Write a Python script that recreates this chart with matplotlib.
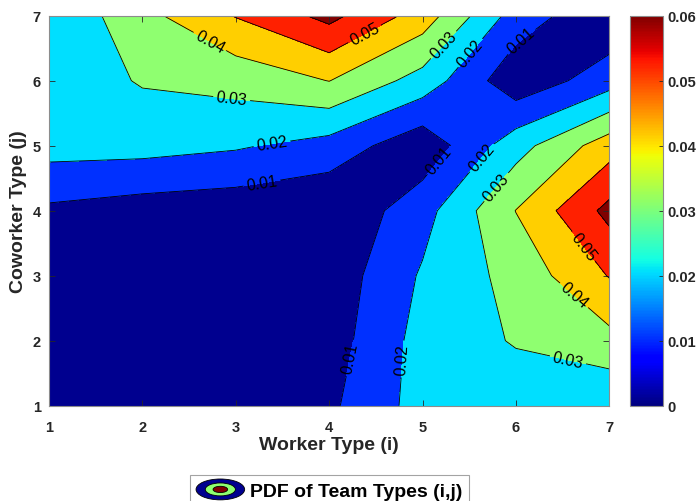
import numpy as np
import matplotlib
matplotlib.use("Agg")
import matplotlib.pyplot as plt
from matplotlib.colors import ListedColormap, BoundaryNorm, Normalize
from matplotlib.cm import ScalarMappable
from matplotlib.patches import Ellipse
from matplotlib.legend_handler import HandlerBase

plt.rcParams['font.family'] = ['Liberation Sans', 'DejaVu Sans']

# worker / coworker types
worker_types = [1, 2, 3, 4, 5, 6, 7]
coworker_types = [1, 2, 3, 4, 5, 6, 7]

# joint PDF of team types, one row per coworker type j (columns: worker type i)
pdf_j1 = [0.0005, 0.0008, 0.0015, 0.0081, 0.0240, 0.0240, 0.0210]
pdf_j2 = [0.0008, 0.0010, 0.0020, 0.0052, 0.0237, 0.0308, 0.0369]
pdf_j3 = [0.0015, 0.0020, 0.0020, 0.0037, 0.0212, 0.0335, 0.0505]
pdf_j4 = [0.0081, 0.0052, 0.0037, 0.0010, 0.0162, 0.0402, 0.0630]
pdf_j5 = [0.0240, 0.0237, 0.0212, 0.0162, 0.0030, 0.0260, 0.0455]
pdf_j6 = [0.0240, 0.0308, 0.0335, 0.0402, 0.0260, 0.0030, 0.0155]
pdf_j7 = [0.0210, 0.0369, 0.0505, 0.0630, 0.0455, 0.0155, 0.0020]

levels = [0, 0.01, 0.02, 0.03, 0.04, 0.05, 0.06, 0.07]
cbar_ticks = [0, 0.01, 0.02, 0.03, 0.04, 0.05, 0.06]
cbar_labels = ['0', '0.01', '0.02', '0.03', '0.04', '0.05', '0.06']

# approximate label spots along the contour lines
label_spots = [(2.69, 6.52), (4.37, 6.75), (2.95, 5.65), (3.39, 5.0), (3.28, 4.42),
               (5.19, 6.6), (5.47, 6.48), (6.06, 6.6), (5.18, 4.78), (5.65, 4.8),
               (5.76, 4.4), (6.72, 3.45), (6.6, 2.66), (6.56, 1.72), (4.17, 1.75),
               (4.76, 1.72)]

Z = np.array([pdf_j1, pdf_j2, pdf_j3, pdf_j4, pdf_j5, pdf_j6, pdf_j7])
X, Y = np.meshgrid(worker_types, coworker_types)

# MATLAB jet colours at each level
fill_colors = ['#00008F', '#0030FF', '#00DFFF', '#8FFF70', '#FFCF00', '#FF2000', '#800000']
cmap = ListedColormap(fill_colors)
norm = BoundaryNorm(levels, cmap.N)

fig = plt.figure(figsize=(6.98, 5.02), dpi=100)
ax = fig.add_axes([0.0702, 0.1898, 0.8027, 0.7769])

cf = ax.contourf(X, Y, Z, levels=levels, cmap=cmap, norm=norm)
cs = ax.contour(X, Y, Z, levels=levels[1:-1], colors='k', linewidths=0.6)
ax.clabel(cs, fmt=lambda v: f'{v:.2f}', fontsize=11.5, inline=True, inline_spacing=3,
          manual=label_spots)

ax.set_xlim(1, 7)
ax.set_ylim(1, 7)
ax.set_xticks(worker_types)
ax.set_yticks(coworker_types)
ax.tick_params(direction='in', top=True, right=True, length=4, width=0.6,
               color='#262626', labelsize=10.5, pad=6)
ax.tick_params(axis='x', pad=10)
for lab in ax.get_xticklabels() + ax.get_yticklabels():
    lab.set_fontweight('bold')
    lab.set_color('#262626')
for sp in ax.spines.values():
    sp.set_color('#8c8c8c')
    sp.set_linewidth(0.8)

ax.set_xlabel('Worker Type (i)', fontsize=14, fontweight='bold', color='#262626', labelpad=2)
ax.set_ylabel('Coworker Type (j)', fontsize=14, fontweight='bold', color='#262626', labelpad=4)

# colour bar with the continuous jet map
cax = fig.add_axes([0.9026, 0.1898, 0.0468, 0.7769])
sm = ScalarMappable(norm=Normalize(0, 0.06), cmap='jet')
cb = fig.colorbar(sm, cax=cax, ticks=cbar_ticks)
cb.ax.set_yticklabels(cbar_labels)
cb.ax.tick_params(direction='in', length=3, width=0.6, color='#262626', labelsize=10.5)
for lab in cb.ax.get_yticklabels():
    lab.set_fontweight('bold')
    lab.set_color('#262626')
cb.outline.set_edgecolor('#8c8c8c')
cb.outline.set_linewidth(0.8)


class NestedEllipseHandler(HandlerBase):
    def create_artists(self, legend, orig_handle, xdescent, ydescent, width, height,
                       fontsize, trans):
        cx = width / 2 - xdescent
        cy = height / 2 - ydescent
        arts = []
        for scale, color in [(1.0, '#00008F'), (0.62, '#8FFF70'), (0.3, '#800000')]:
            e = Ellipse((cx, cy), width * scale, height * 1.2 * scale,
                        facecolor=color, edgecolor='k', lw=0.6, transform=trans)
            arts.append(e)
        return arts


proxy = object()
leg = fig.legend([proxy], ['PDF of Team Types (i,j)'], loc='upper center',
                 bbox_to_anchor=(0.472, 0.052), borderaxespad=0,
                 handler_map={object: NestedEllipseHandler()},
                 prop={'weight': 'bold', 'size': 14}, frameon=True, fancybox=False,
                 edgecolor='#8c8c8c', handlelength=2.5, handleheight=1.0,
                 handletextpad=0.3, borderpad=0.3)
leg.get_frame().set_linewidth(0.8)

fig.savefig('out.png', dpi=100)
